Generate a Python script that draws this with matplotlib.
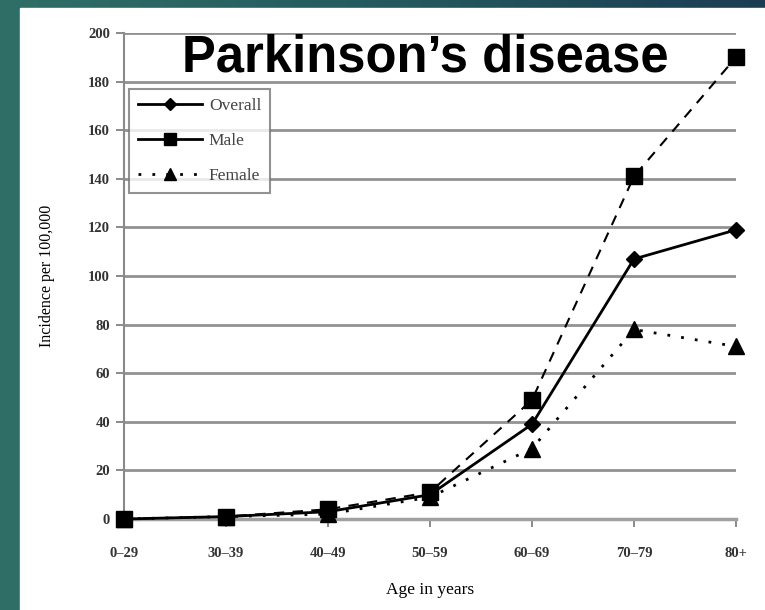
import matplotlib
matplotlib.use("Agg")
import matplotlib.pyplot as plt
import numpy as np
from matplotlib.lines import Line2D
from matplotlib.patches import Rectangle
from matplotlib.colors import LinearSegmentedColormap

# data
age_groups = ["0\u201329", "30\u201339", "40\u201349", "50\u201359", "60\u201369", "70\u201379", "80+"]
overall = [0, 1, 3, 10, 39, 107, 119]
male = [0, 1, 4, 11, 49, 141, 190]
female = [0, 1, 2, 9, 29, 78, 71]
y_ticks = [0, 20, 40, 60, 80, 100, 120, 140, 160, 180, 200]

serif = ["Liberation Serif", "DejaVu Serif"]

fig = plt.figure(figsize=(7.65, 6.1), dpi=100)

# teal slide background with a white panel on it
bg = fig.add_axes([0, 0, 1, 1], zorder=-10)
grad = np.linspace(0, 1, 256).reshape(1, -1)
cmap = LinearSegmentedColormap.from_list("teal", ["#2f6f67", "#245a5e", "#1b3d54"])
bg.imshow(grad, aspect="auto", cmap=cmap, extent=[0, 1, 0, 1])
bg.add_patch(Rectangle((20 / 765, 0), 1, 602 / 610, color="white"))
bg.set_xlim(0, 1)
bg.set_ylim(0, 1)
bg.axis("off")

ax = fig.add_axes([124 / 765, 91 / 610, 612 / 765, 486 / 610])
x = np.arange(len(age_groups))

ax.plot(x, male, color="black", lw=1.5, linestyle=(0, (5, 4)),
        marker="s", markersize=12, zorder=3, clip_on=False)
ax.plot(x, female, color="black", lw=2, linestyle=(0, (1, 4)),
        marker="^", markersize=11, zorder=3, clip_on=False)
ax.plot(x, overall, color="black", lw=2, linestyle="-",
        marker="D", markersize=8, zorder=4, clip_on=False)

ax.set_xlim(0, 6)
ax.set_ylim(0, 200)
ax.set_yticks(y_ticks)
ax.set_xticks(x)
ax.set_xticklabels(age_groups)
for y in y_ticks[1:]:
    ax.axhline(y, color="#929292", lw=2, zorder=1)

for s in ["top", "right"]:
    ax.spines[s].set_visible(False)
ax.spines["left"].set_color("#8a8a8a")
ax.spines["left"].set_linewidth(1.5)
ax.spines["bottom"].set_color("#a0a0a0")
ax.spines["bottom"].set_linewidth(2.5)
ax.tick_params(axis="y", direction="out", length=6, width=1.2, color="#777777", pad=4)
ax.tick_params(axis="x", direction="out", length=6, width=1.2, color="#777777", pad=14)

for lab in ax.get_xticklabels() + ax.get_yticklabels():
    lab.set_family(serif)
    lab.set_fontsize(10.5)
    lab.set_fontweight("bold")
    lab.set_color("#333333")

ax.set_ylabel("Incidence per 100,000", family=serif, fontsize=11.5, labelpad=24)
ax.set_xlabel("Age in years", family=serif, fontsize=12.5, labelpad=16)

handles = [
    Line2D([], [], color="black", lw=2, marker="D", markersize=6),
    Line2D([], [], color="black", lw=2, marker="s", markersize=9),
    Line2D([], [], color="black", lw=2, linestyle=(0, (1, 4)), marker="^", markersize=8),
]
leg = ax.legend(handles, ["Overall", "Male", "Female"], loc="upper left",
                bbox_to_anchor=(0.008, 0.885), borderaxespad=0, fancybox=False,
                handlelength=3.7, handletextpad=0.4, labelspacing=1.1,
                prop={"family": serif, "size": 12.5}, borderpad=0.5)
leg.get_frame().set_edgecolor("#777777")
leg.get_frame().set_linewidth(1.5)
for t in leg.get_texts():
    t.set_color("#444444")

fig.text(425 / 765, 538 / 610, "Parkinson\u2019s disease", ha="center", va="baseline",
         family=["Liberation Sans", "DejaVu Sans"], fontweight="bold", fontsize=36.5)

fig.savefig("out.png", dpi=100)
